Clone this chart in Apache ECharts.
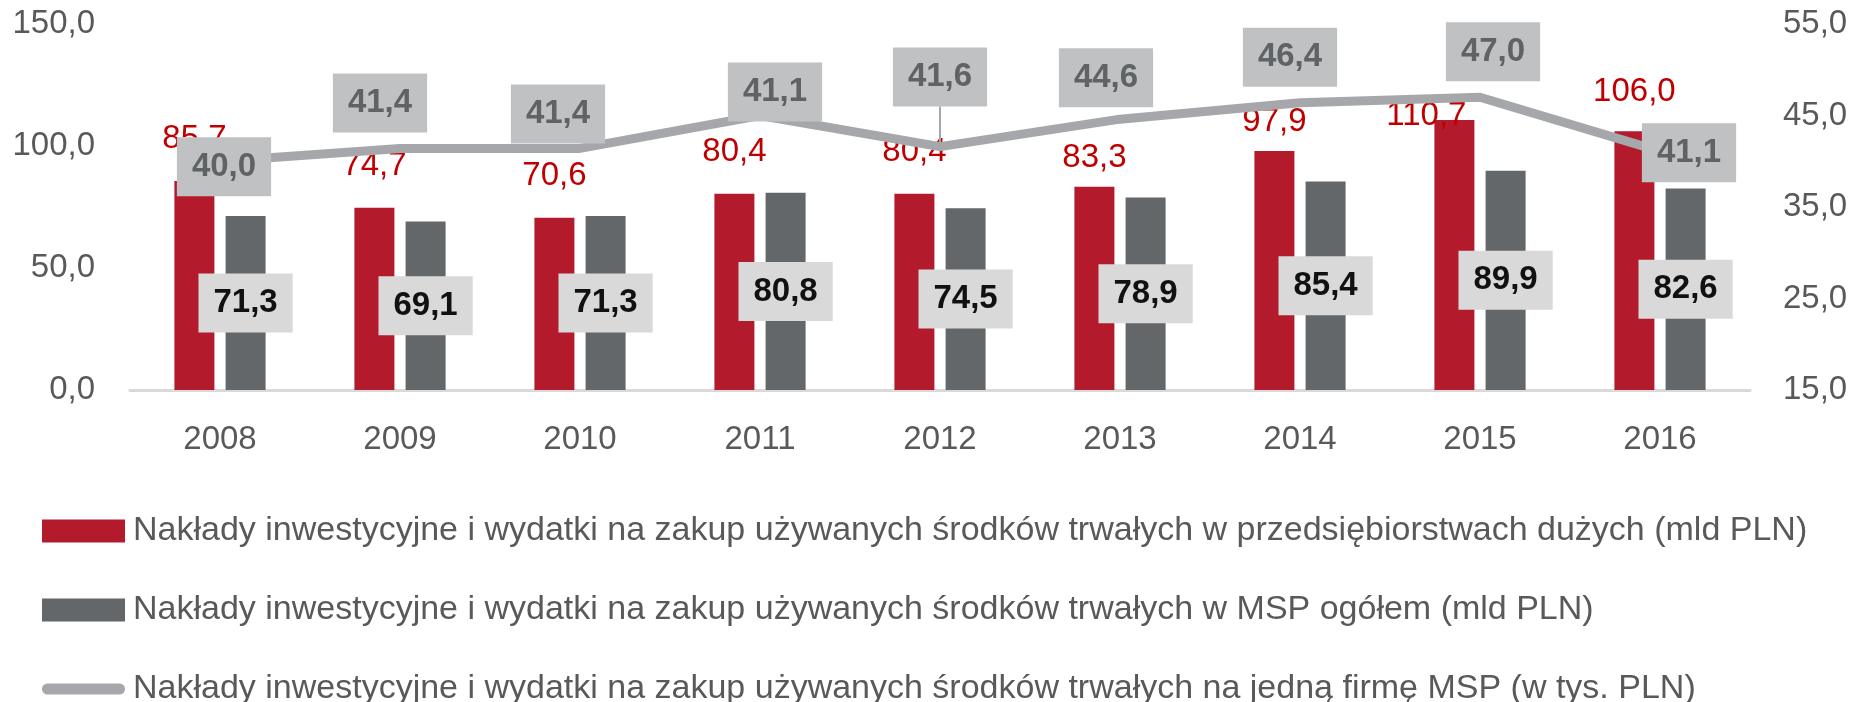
<!DOCTYPE html>
<html>
<head>
<meta charset="utf-8">
<script src="https://cdn.jsdelivr.net/npm/echarts@6/dist/echarts.min.js"></script>
<style>
  html, body { margin: 0; padding: 0; background: #fff; }
  #chart { width: 1858px; height: 702px; }
</style>
</head>
<body>
<div id="chart"></div>
<script>
const years = ['2008', '2009', '2010', '2011', '2012', '2013', '2014', '2015', '2016'];
// mld PLN
const duze = [85.7, 74.7, 70.6, 80.4, 80.4, 83.3, 97.9, 110.7, 106.0];
const mspOgolem = [71.3, 69.1, 71.3, 80.8, 74.5, 78.9, 85.4, 89.9, 82.6];
// tys. PLN na firmę - punkty tak jak na wykresie, etykiety jak w oryginale
const naFirme = [40.0, 41.4, 41.4, 45.0, 41.6, 44.6, 46.4, 47.0, 41.1];
const naFirmeLabels = ['40,0', '41,4', '41,4', '41,1', '41,6', '44,6', '46,4', '47,0', '41,1'];

const leftAxis = { min: 0, max: 150, step: 50 };
const rightAxis = { min: 15, max: 55, step: 10 };

const seriesNames = [
  'Nakłady inwestycyjne i wydatki na zakup używanych środków trwałych w przedsiębiorstwach dużych (mld PLN)',
  'Nakłady inwestycyjne i wydatki na zakup używanych środków trwałych w MSP ogółem (mld PLN)',
  'Nakłady inwestycyjne i wydatki na zakup używanych środków trwałych na jedną firmę MSP (w tys. PLN)'
];

const FONT = '"Liberation Sans", Arial, sans-serif';
const fmt = v => v.toFixed(1).replace('.', ',');

// ręczne przesunięcia etykiet (tak jak ułożone w oryginale)
const redNudge = [[0, 0], [0, 0], [0, 0], [0, 0], [0, 0], [0, 13], [0, 12], [-28, 38], [0, 2]];
const lineNudge = [[4, 51], [-20, 0], [-22, 11], [15, 22], [0, -24], [-14, 4], [-10, 0], [13, 0], [29, 47]];

const chart = echarts.init(document.getElementById('chart'));

const lineData = naFirme.map((v, i) => {
  const item = { value: v };
  if (i === 4) {
    item.labelLine = { show: true, lineStyle: { color: '#a5a7aa', width: 2 } };
  }
  return item;
});

const option = {
  animation: false,
  textStyle: { fontFamily: FONT },
  grid: { left: 130, right: 108, top: 24, bottom: 312 },
  legend: {
    orient: 'vertical',
    left: 42,
    top: 514,
    height: 200,
    padding: 0,
    itemWidth: 83,
    itemHeight: 23,
    itemGap: 45,
    selectedMode: false,
    textStyle: { fontFamily: FONT, fontSize: 34, color: '#595959', lineHeight: 32, padding: [0, 0, 0, 3] },
    data: [
      { name: seriesNames[0], icon: 'rect' },
      { name: seriesNames[1], icon: 'rect' },
      { name: seriesNames[2], icon: 'path://M6,0 H84 A6,6 0 0 1 84,12 H6 A6,6 0 0 1 6,0 Z' }
    ]
  },
  xAxis: {
    type: 'category',
    data: years,
    axisTick: { show: false },
    axisLine: { lineStyle: { color: '#d9d9d9', width: 3 } },
    axisLabel: { fontFamily: FONT, fontSize: 33, color: '#595959', margin: 33 }
  },
  yAxis: [
    {
      type: 'value',
      min: leftAxis.min,
      max: leftAxis.max,
      interval: leftAxis.step,
      splitLine: { show: false },
      axisLine: { show: false },
      axisTick: { show: false },
      axisLabel: { fontFamily: FONT, fontSize: 33, color: '#595959', margin: 35, formatter: v => fmt(v) }
    },
    {
      type: 'value',
      min: rightAxis.min,
      max: rightAxis.max,
      interval: 5,
      splitLine: { show: false },
      axisLine: { show: false },
      axisTick: { show: false },
      axisLabel: {
        fontFamily: FONT, fontSize: 33, color: '#595959', margin: 33,
        formatter: v => ((v - rightAxis.min) % rightAxis.step === 0 ? fmt(v) : '')
      }
    }
  ],
  series: [
    {
      name: seriesNames[0],
      type: 'bar',
      data: duze,
      barWidth: 40,
      barGap: '28%',
      itemStyle: { color: '#b31b2c' },
      z: 2,
      label: {
        show: true,
        position: 'top',
        distance: 25,
        fontFamily: FONT,
        fontSize: 33,
        color: '#c00000',
        formatter: p => fmt(p.value)
      },
      labelLayout: p => ({ dx: redNudge[p.dataIndex][0], dy: redNudge[p.dataIndex][1] })
    },
    {
      name: seriesNames[1],
      type: 'bar',
      data: mspOgolem,
      barWidth: 40,
      itemStyle: { color: '#63676a' },
      z: 2,
      label: {
        show: true,
        position: 'inside',
        fontFamily: FONT,
        fontSize: 33,
        fontWeight: 'bold',
        color: '#111',
        backgroundColor: '#d9d9d9',
        padding: [13, 15],
        formatter: p => fmt(p.value)
      }
    },
    {
      name: seriesNames[2],
      type: 'line',
      yAxisIndex: 1,
      data: lineData,
      symbol: 'circle',
      symbolSize: 2,
      z: 5,
      lineStyle: { color: '#a5a7aa', width: 9 },
      itemStyle: { color: '#a5a7aa' },
      label: {
        show: true,
        position: 'top',
        distance: 15,
        fontFamily: FONT,
        fontSize: 33,
        fontWeight: 'bold',
        color: '#5f6366',
        backgroundColor: '#bfc1c3',
        padding: [13, 15],
        formatter: p => naFirmeLabels[p.dataIndex]
      },
      labelLayout: p => ({ dx: lineNudge[p.dataIndex][0], dy: lineNudge[p.dataIndex][1] })
    }
  ]
};

chart.setOption(option);
</script>
</body>
</html>
